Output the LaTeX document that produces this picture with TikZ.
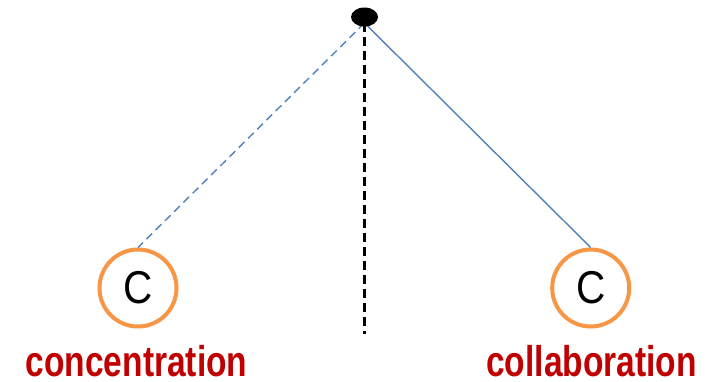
\documentclass[tikz,border=0pt]{standalone}
\usepackage{fontspec}
\setmainfont{Liberation Sans}
\newfontfamily\labfont[FakeStretch=0.78]{Liberation Sans Bold}
\newfontfamily\cfont[FakeStretch=0.88]{Liberation Sans}
\usetikzlibrary{shapes.geometric}
\definecolor{lblue}{HTML}{4F81BD}
\definecolor{corange}{HTML}{F79646}
\definecolor{lred}{HTML}{C00000}
\begin{document}
\begin{tikzpicture}[x=1pt,y=-1pt,
  cnode/.style={circle,draw=corange,line width=4pt,minimum size=77pt,inner sep=0pt,fill=white,
    font=\cfont\fontsize{46}{46}\selectfont},
  lab/.style={text=lred,anchor=base,inner sep=0pt,font=\labfont\fontsize{43}{43}\selectfont},
  link/.style={draw=lblue,line width=1.4pt},
  axis/.style={draw=black,line width=2.3pt,dash pattern=on 9pt off 5pt}]
\useasboundingbox (0,0) rectangle (710,381);
\coordinate (apex) at (364.5,23);
\coordinate (bot) at (364.5,334);
\node[cnode] (c1) at (138,288) {C};
\node[cnode] (c2) at (590.7,288) {C};
\draw[link,dash pattern=on 8pt off 5pt] (apex) -- (c1.north);
\draw[link] (apex) -- (c2.north);
\draw[axis] (apex) -- (bot);
\node[ellipse,fill=black,minimum width=27pt,minimum height=19pt,inner sep=0pt] (dot) at (364.5,17) {};
\node[lab] (l1) at (136.5,376) {concentration};
\node[lab] (l2) at (591.5,376) {collaboration};
\end{tikzpicture}
\end{document}
